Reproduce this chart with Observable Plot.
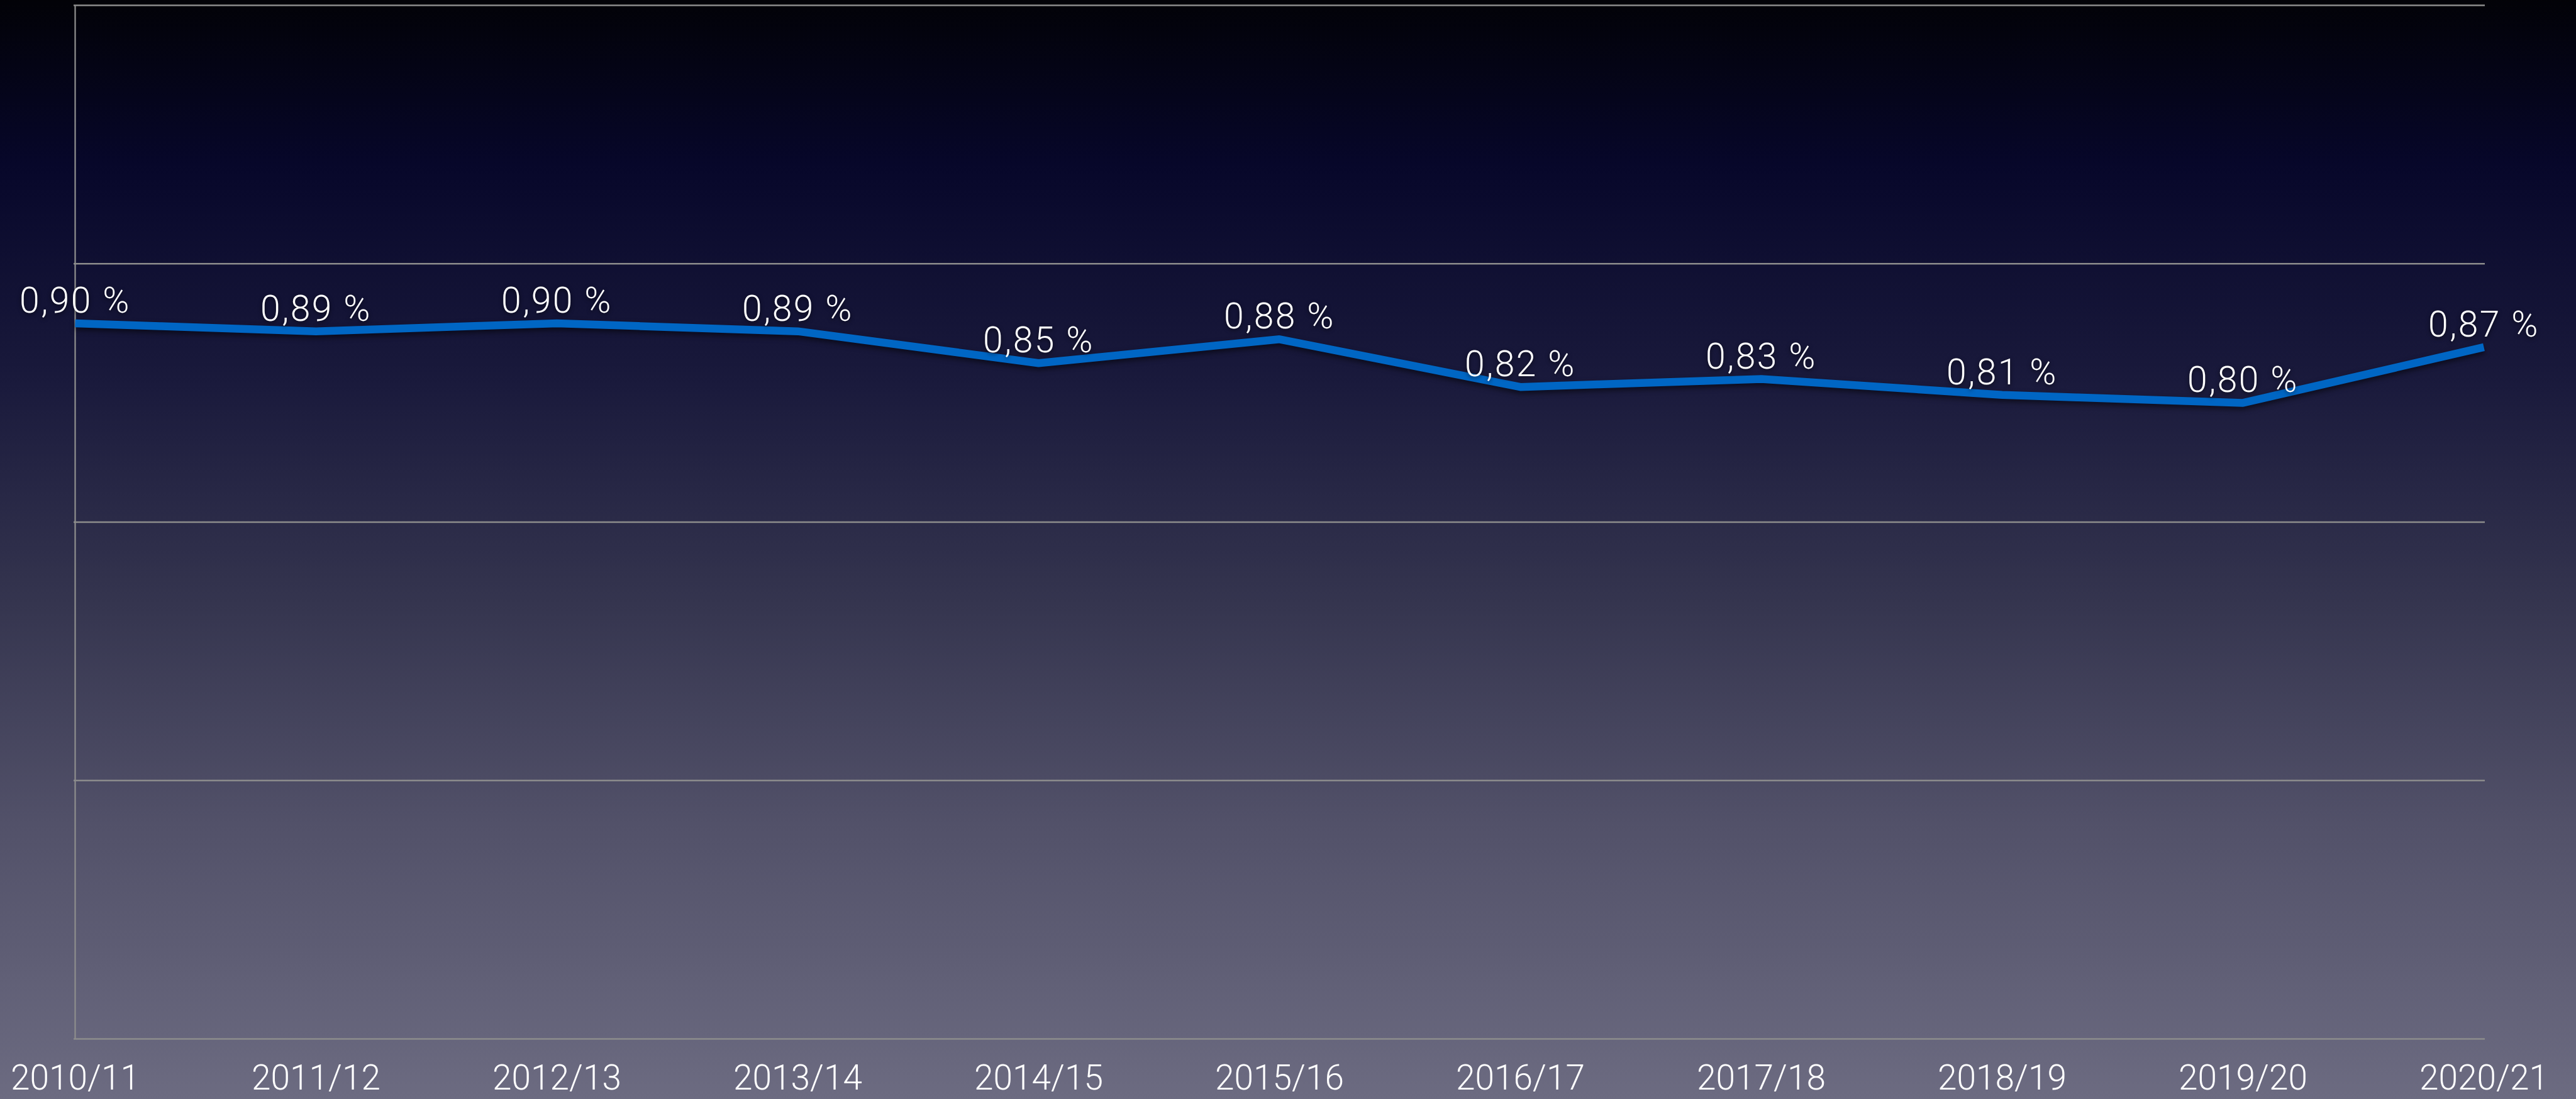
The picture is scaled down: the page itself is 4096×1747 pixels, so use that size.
<!DOCTYPE html>
<html>
<head>
<meta charset="utf-8">
<script src="https://cdn.jsdelivr.net/npm/d3@7"></script>
<script src="https://cdn.jsdelivr.net/npm/@observablehq/plot@0.6"></script>
<style>
  html, body { margin: 0; padding: 0; }
  body {
    width: 4096px; height: 1747px; overflow: hidden;
    background: linear-gradient(to bottom, #020207 0%, #07072a 15%, #1a1a3c 35%, #35354f 55%, #525169 75%, #6c6b81 100%);
    font-family: "Helvetica Neue", Roboto, "Liberation Sans", sans-serif;
  }
  #chart svg { display: block; }
</style>
</head>
<body>
<div id="chart"></div>
<script>
const years = ["2010/11", "2011/12", "2012/13", "2013/14", "2014/15", "2015/16", "2016/17", "2017/18", "2018/19", "2019/20", "2020/21"];
const values = [0.90, 0.89, 0.90, 0.89, 0.85, 0.88, 0.82, 0.83, 0.81, 0.80, 0.87];
const gridTicks = [0, 0.325, 0.65, 0.975, 1.3];

const data = years.map((year, i) => ({year, value: values[i]}));
const fmt = v => d3.format(".2f")(v).replace(".", ",") + " %";

const plot = Plot.plot({
  width: 4096,
  height: 1747,
  marginLeft: 117,
  marginRight: 145,
  marginTop: 8,
  marginBottom: 96,
  style: {background: "transparent", color: "white", fontFamily: "'Helvetica Neue', Roboto, 'Liberation Sans', sans-serif", fontWeight: 300, overflow: "visible"},
  x: {type: "point", domain: years, padding: 0},
  y: {domain: [0, 1.3], axis: null},
  marks: [
    Plot.ruleY(gridTicks, {stroke: "#8c8c8c", strokeWidth: 2.3}),
    Plot.ruleX([years[0]], {stroke: "#8c8c8c", strokeWidth: 2.3}),
    Plot.axisX({tickSize: 0, tickPadding: 41, fontSize: 55, fill: "white", label: null}),
    Plot.line(data, {x: "year", y: "value", stroke: "#0066c4", strokeWidth: 12.5, strokeLinejoin: "miter", strokeLinecap: "butt"}),
    Plot.text(data, {x: "year", y: "value", text: d => fmt(d.value), fill: "white", fontSize: 57, lineAnchor: "bottom", dy: -17, textAnchor: "middle"})
  ]
});

plot.querySelectorAll('g[aria-label="line"]').forEach(g => g.style.filter = "drop-shadow(0px 4px 4px rgba(0,0,0,0.55))");
plot.querySelectorAll('g[aria-label="text"]').forEach(g => {
  g.style.filter = "drop-shadow(0px 2px 3px rgba(0,0,0,0.6))";
  g.style.letterSpacing = "2.5px";
});
document.getElementById("chart").appendChild(plot);
</script>
</body>
</html>
